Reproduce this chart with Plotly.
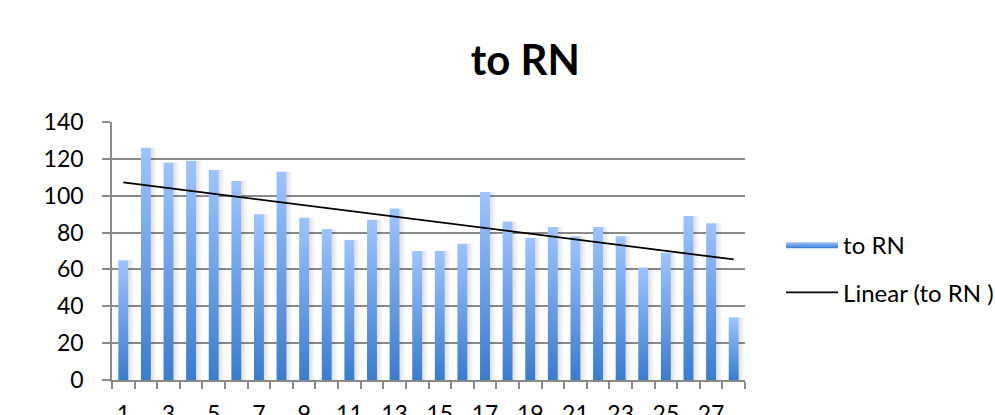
import numpy as np
import plotly.graph_objects as go

# Monthly counts "to RN"
categories = list(range(1, 29))
to_rn = [65, 126, 118, 119, 114, 108, 90, 113, 88, 82, 76, 87, 93, 70,
         70, 74, 102, 86, 77, 83, 78, 83, 78, 61, 69, 89, 85, 34]
x_tick_labels = [str(c) for c in categories if c % 2 == 1]

BAR_W = 0.44
TOP_BLUE = "rgb(158,196,255)"
BOTTOM_BLUE = "rgb(58,124,204)"
GRID = "#8a8a8a"
FONT = "Lato"

fig = go.Figure()

# soft drop shadow to the right of each bar
for c, v in zip(categories, to_rn):
    x0 = c + BAR_W / 2
    x1 = x0 + 0.28
    fig.add_trace(go.Scatter(
        x=[x0, x1, x1, x0, x0], y=[0, 0, v, v, 0],
        mode="lines", line=dict(width=0), fill="toself",
        fillgradient=dict(type="horizontal",
                          colorscale=[[0, "rgba(0,0,0,0.13)"], [1, "rgba(0,0,0,0)"]]),
        hoverinfo="skip", showlegend=False))

# gradient-filled bars
for i, (c, v) in enumerate(zip(categories, to_rn)):
    x0, x1 = c - BAR_W / 2, c + BAR_W / 2
    fig.add_trace(go.Scatter(
        x=[x0, x1, x1, x0, x0], y=[0, 0, v, v, 0],
        mode="lines", line=dict(width=0), fill="toself",
        fillgradient=dict(type="vertical",
                          colorscale=[[0, BOTTOM_BLUE], [1, TOP_BLUE]]),
        name="to RN", legendgroup="bars", showlegend=(i == 0),
        hovertemplate="%{y}<extra></extra>"))

# linear trend line
slope, intercept = np.polyfit(categories, to_rn, 1)
trend_x = [categories[0], categories[-1]]
trend_y = [slope * x + intercept for x in trend_x]
fig.add_trace(go.Scatter(
    x=trend_x, y=trend_y, mode="lines",
    line=dict(color="black", width=1.8),
    name="Linear (to RN )", legendgroup="trend"))

fig.update_layout(
    width=995, height=415,
    margin=dict(l=112, r=250, t=122, b=35, autoexpand=False),
    paper_bgcolor="white", plot_bgcolor="white",
    font=dict(family=FONT, size=23, color="black"),
    title=dict(text="<b>to RN</b>", x=0.528, xanchor="center",
               y=0.855, yanchor="middle", yref="container",
               font=dict(family=FONT, size=42, color="black")),
    legend=dict(x=1.057, xanchor="left", y=0.612, yanchor="top",
                font=dict(family=FONT, size=24, color="black"),
                itemwidth=52, tracegroupgap=14, bgcolor="rgba(0,0,0,0)"),
    showlegend=True,
)

fig.update_xaxes(
    range=[0.5, 28.5], automargin=False,
    tickmode="array", tickvals=[c for c in categories if c % 2 == 1],
    ticktext=x_tick_labels, ticks="", ticklabelstandoff=13,
    showline=True, linecolor=GRID, linewidth=1.5,
    showgrid=False, zeroline=False,
    minor=dict(tickmode="array",
               tickvals=[c - 0.5 for c in categories] + [categories[-1] + 0.5],
               ticks="outside", ticklen=7, tickcolor=GRID, tickwidth=1.5,
               showgrid=False),
    fixedrange=True,
)
fig.update_yaxes(
    range=[0, 140], automargin=False, tickmode="linear", tick0=0, dtick=20,
    ticks="outside", ticklen=8, tickcolor=GRID, tickwidth=1.5,
    ticklabelstandoff=14,
    showline=True, linecolor=GRID, linewidth=1.5,
    showgrid=True, gridcolor=GRID, gridwidth=1.5, zeroline=False,
    fixedrange=True,
)

fig.write_html("out.html")
